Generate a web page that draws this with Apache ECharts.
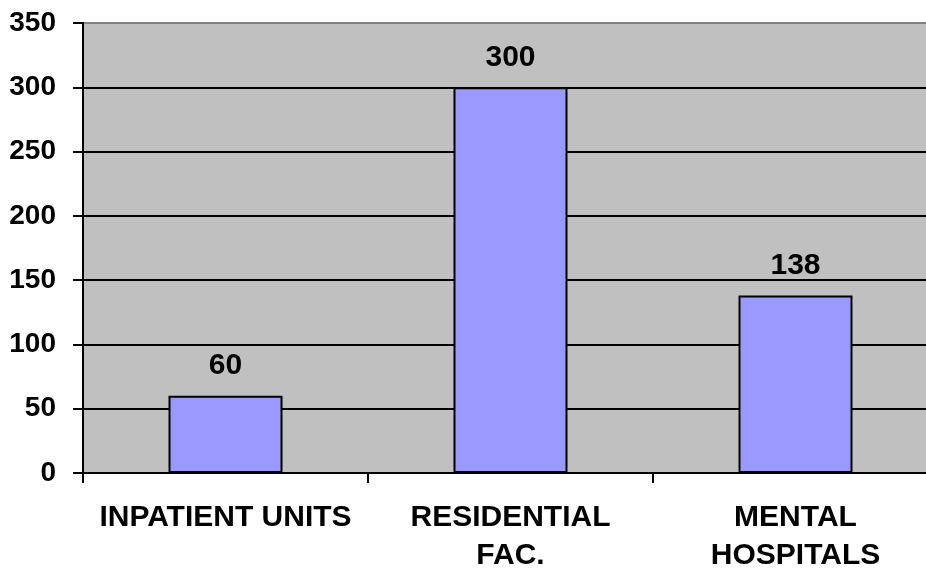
<!DOCTYPE html>
<html>
<head>
<meta charset="utf-8">
<script src="https://cdn.jsdelivr.net/npm/echarts@6/dist/echarts.min.js"></script>
<style>
html,body{margin:0;padding:0;background:#fff;}
#chart{width:926px;height:569px;}
</style>
</head>
<body>
<div id="chart"></div>
<script>
const categories = ['INPATIENT UNITS', 'RESIDENTIAL\nFAC.', 'MENTAL\nHOSPITALS'];
const values = [60, 300, 138];
const yTicks = [0, 50, 100, 150, 200, 250, 300, 350];

const FONT = "'Liberation Sans', Arial, sans-serif";
const chart = echarts.init(document.getElementById('chart'), null, {renderer: 'canvas'});
chart.setOption({
  animation: false,
  backgroundColor: '#ffffff',
  grid: {
    left: 83, top: 23, width: 855, bottom: 96,
    outerBoundsMode: 'none', containLabel: false,
    show: true, backgroundColor: '#C0C0C0', borderColor: '#808080', borderWidth: 2
  },
  xAxis: {
    type: 'category',
    data: categories,
    axisLine: {show: true, lineStyle: {color: '#000', width: 2}},
    axisTick: {show: true, length: 10, lineStyle: {color: '#000', width: 2}},
    axisLabel: {
      interval: 0, margin: 26, color: '#000',
      fontFamily: FONT, fontWeight: 'bold', fontSize: 30, lineHeight: 38
    },
    splitLine: {show: false}
  },
  yAxis: {
    type: 'value',
    min: yTicks[0], max: yTicks[yTicks.length - 1], interval: 50,
    axisLine: {show: true, lineStyle: {color: '#000', width: 2}},
    axisTick: {show: true, length: 10, lineStyle: {color: '#000', width: 2}},
    axisLabel: {
      margin: 27, color: '#000',
      fontFamily: FONT, fontWeight: 'bold', fontSize: 28
    },
    splitLine: {show: true, showMaxLine: false, lineStyle: {color: '#000', width: 2}}
  },
  series: [{
    type: 'bar',
    data: values,
    barWidth: '40%',
    itemStyle: {color: '#9999FF', borderColor: '#000', borderWidth: 2},
    label: {
      show: true, position: 'top', distance: 15, color: '#000',
      fontFamily: FONT, fontWeight: 'bold', fontSize: 30
    }
  }]
});
</script>
</body>
</html>
